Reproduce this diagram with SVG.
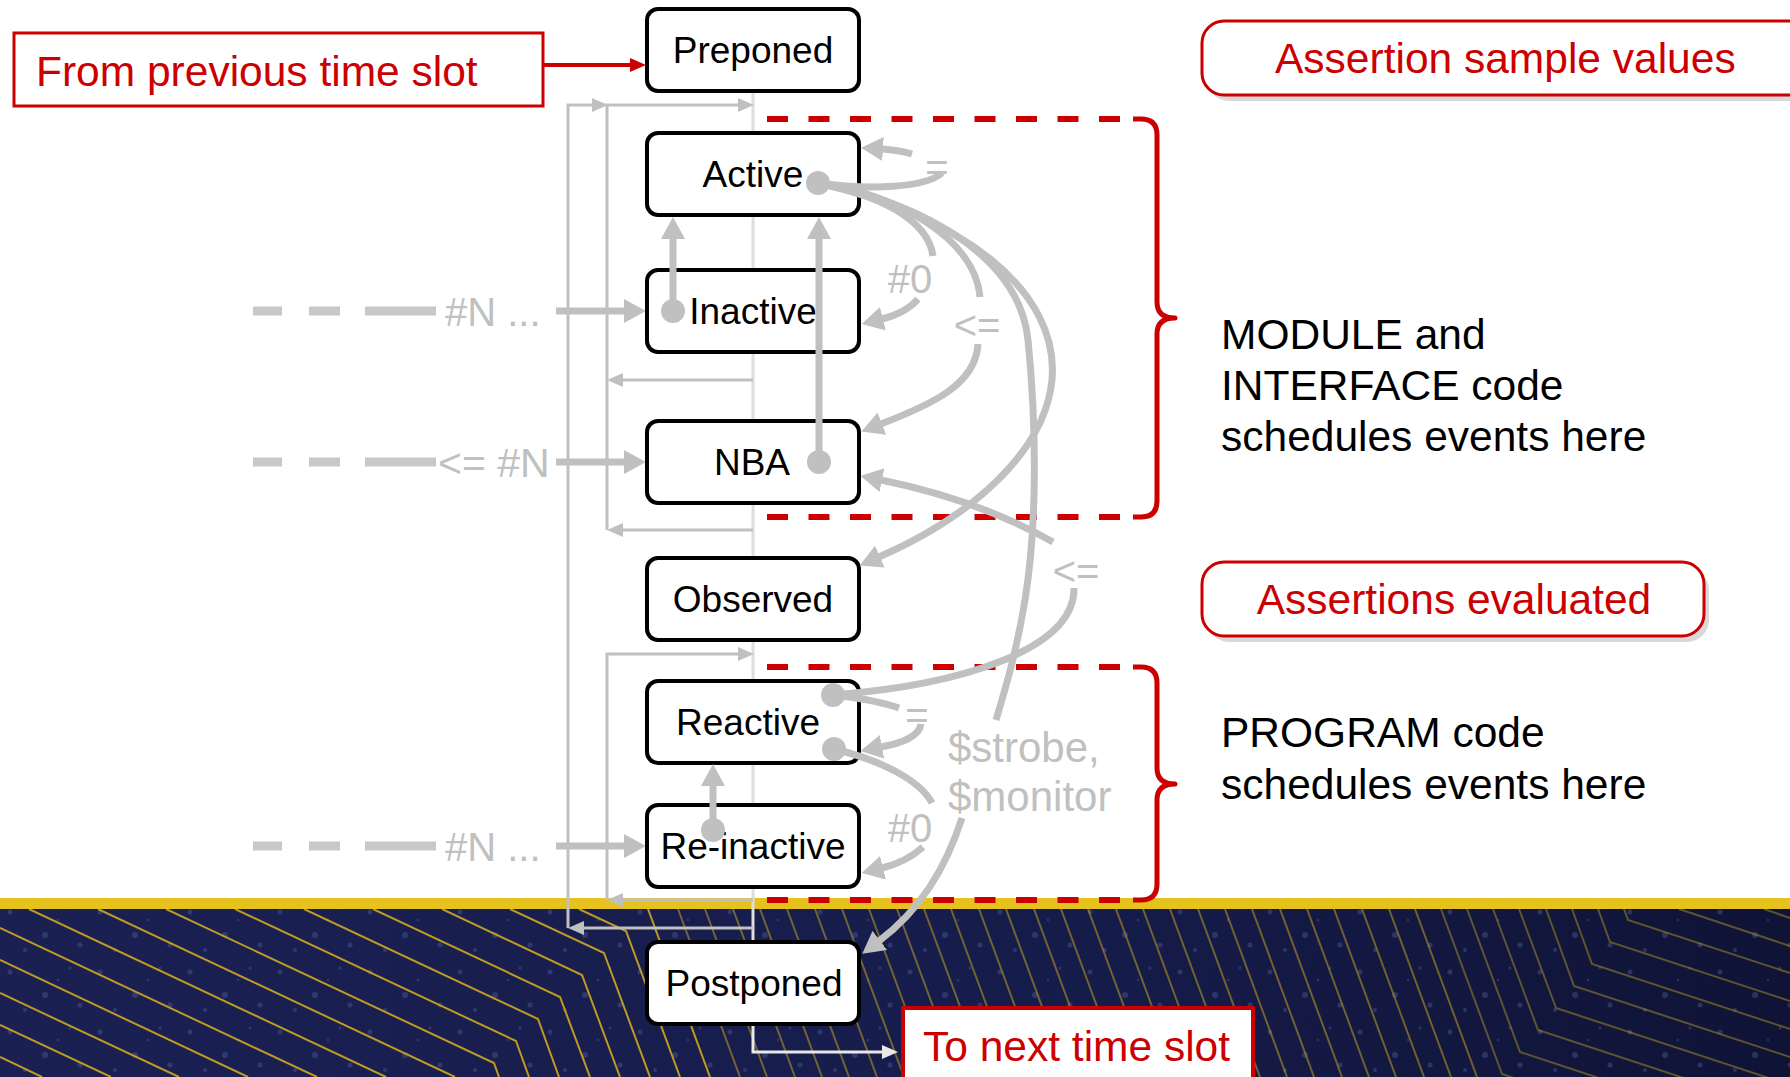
<svg xmlns="http://www.w3.org/2000/svg" width="1790" height="1077" viewBox="0 0 1790 1077">
<style>
.box{fill:#fff;stroke:#000;stroke-width:4}
.nt{font-family:"Liberation Sans",Arial,sans-serif;font-size:37px;fill:#000;text-anchor:middle}
.gl{font-family:"Liberation Sans",Arial,sans-serif;font-size:40px;fill:#c0c0c0}
.glm{font-family:"Liberation Sans",Arial,sans-serif;font-size:40px;fill:#c0c0c0;text-anchor:middle}
.bt{font-family:"Liberation Sans",Arial,sans-serif;font-size:42.5px;fill:#000}
.rt{font-family:"Liberation Sans",Arial,sans-serif;font-size:42.5px;fill:#cc0000}
.conn{fill:none;stroke:#c0c0c0;stroke-width:7}
.thin{fill:none;stroke:#c0c0c0;stroke-width:3}
.inp{fill:none;stroke:#c8c8c8;stroke-width:9}
.dot{fill:#c0c0c0}
.rdash{fill:none;stroke:#cc0000;stroke-width:6;stroke-dasharray:21 20.5}
.brace{fill:none;stroke:#cc0000;stroke-width:5;stroke-linejoin:round}
.yl{fill:none;stroke:#cfa91e;stroke-width:2}
</style>
<defs>
<marker id="ah" markerUnits="userSpaceOnUse" viewBox="0 0 22 24" markerWidth="22" markerHeight="24" refX="1" refY="12" orient="auto"><path d="M0,0 L22,12 L0,24 z" fill="#c0c0c0"/></marker>
<marker id="at" markerUnits="userSpaceOnUse" viewBox="0 0 16 14" markerWidth="16" markerHeight="14" refX="1" refY="7" orient="auto"><path d="M0,0 L16,7 L0,14 z" fill="#c0c0c0"/></marker>
<marker id="ar" markerUnits="userSpaceOnUse" viewBox="0 0 16 14" markerWidth="16" markerHeight="14" refX="1" refY="7" orient="auto"><path d="M0,0 L16,7 L0,14 z" fill="#cc0000"/></marker>
<marker id="aw" markerUnits="userSpaceOnUse" viewBox="0 0 16 14" markerWidth="16" markerHeight="14" refX="1" refY="7" orient="auto"><path d="M0,0 L16,7 L0,14 z" fill="#e8e8e8"/></marker>
<linearGradient id="navy" x1="0" y1="0" x2="1" y2="0"><stop offset="0" stop-color="#1a2052"/><stop offset="0.6" stop-color="#161c4a"/><stop offset="1" stop-color="#0f1336"/></linearGradient>
<pattern id="dots" patternUnits="userSpaceOnUse" width="90" height="60"><g fill="#5a6aa8" fill-opacity="0.35"><circle cx="10" cy="12" r="2.5"/><circle cx="45" cy="35" r="3"/><circle cx="70" cy="8" r="1.5"/><circle cx="25" cy="50" r="2"/><circle cx="80" cy="45" r="2.5"/><circle cx="58" cy="20" r="1.2"/></g></pattern>
<clipPath id="bandclip"><rect x="0" y="909" width="1790" height="168"/></clipPath>
</defs>

<rect x="0" y="0" width="1790" height="1077" fill="#fff"/>

<g id="band">
<rect x="0" y="909" width="1790" height="168" fill="url(#navy)"/>
<rect x="0" y="909" width="1790" height="168" fill="url(#dots)"/>
<g clip-path="url(#bandclip)">
<g class="yl" stroke-opacity="0.9">
<polyline points="648,909 648,909 710,1077"/>
<polyline points="579,909 626,931 680,1077"/>
<polyline points="510,909 604,953 650,1077"/>
<polyline points="442,909 582,975 620,1077"/>
<polyline points="373,909 560,997 590,1077"/>
<polyline points="304,909 538,1019 559,1077"/>
<polyline points="235,909 516,1041 529,1077"/>
<polyline points="166,909 494,1063 499,1077"/>
<polyline points="98,909 455,1077"/>
<polyline points="29,909 386,1077"/>
<polyline points="0,928 317,1077"/>
<polyline points="0,960 248,1077"/>
<polyline points="0,993 179,1077"/>
<polyline points="0,1025 111,1077"/>
<polyline points="0,1057 42,1077"/>
</g>
<g class="yl" stroke-opacity="0.5">
<path d="M678,909 l62,168 M705,909 l62,168 M733,909 l62,168 M760,909 l62,168 M787,909 l62,168 M815,909 l62,168 M842,909 l62,168 M869,909 l62,168 M897,909 l62,168 M924,909 l62,168 M951,909 l62,168 M979,909 l62,168 M1006,909 l62,168 M1034,909 l62,168 M1061,909 l62,168 M1088,909 l62,168 M1116,909 l62,168 M1143,909 l62,168 M1170,909 l62,168 M1198,909 l62,168 M1225,909 l62,168 M1252,909 l62,168 M1280,909 l62,168 M1307,909 l62,168 M1334,909 l62,168 M1362,909 l62,168 M1389,909 l62,168 M1415,909 l62,168"/>
</g>
<g class="yl" stroke-opacity="0.42">
<polyline points="1624,909 1628,920 1790,973"/>
<polyline points="1598,909 1610,942 1790,1001"/>
<polyline points="1572,909 1592,964 1790,1029"/>
<polyline points="1546,909 1574,986 1790,1057"/>
<polyline points="1519,909 1556,1008 1790,1085"/>
<polyline points="1493,909 1538,1030 1790,1113"/>
<polyline points="1467,909 1520,1052 1790,1141"/>
<polyline points="1441,909 1502,1074 1790,1169"/>
<polyline points="1679,909 1790,946"/>
<polyline points="1764,909 1790,918"/>
</g>
</g>
<rect x="0" y="898" width="1790" height="11" fill="#e6c21f"/>
</g>

<g id="regions">
<path class="rdash" d="M767,119 H1135 M767,517 H1135"/>
<path class="brace" d="M1133,119 H1141 Q1157,119 1157,135 V302 Q1157,318 1175,318 Q1157,318 1157,334 V501 Q1157,517 1141,517 H1133"/>
<path class="rdash" d="M767,667 H1135 M767,900 H1135"/>
<path class="brace" d="M1133,667 H1141 Q1157,667 1157,683 V768 Q1157,784 1175,784 Q1157,784 1157,800 V884 Q1157,900 1141,900 H1133"/>
</g>

<g id="connectors">
<path d="M753,93 V942" fill="none" stroke="#dedede" stroke-width="3"/>
<path class="thin" d="M753,928 H583" marker-end="url(#at)"/>
<path class="thin" d="M568,928 V105 H593" marker-end="url(#at)"/>
<path class="thin" d="M607,530 V105 H739" marker-end="url(#at)"/>
<path class="thin" d="M753,380 H622" marker-end="url(#at)"/>
<path class="thin" d="M753,530 H622" marker-end="url(#at)"/>
<path class="thin" d="M753,900 H622" marker-end="url(#at)"/>
<path class="thin" d="M607,900 V654 H739" marker-end="url(#at)"/>
<path d="M753,1024 V1052 H883" fill="none" stroke="#e8e8e8" stroke-width="3" marker-end="url(#aw)"/>
<path d="M543,65 H631" fill="none" stroke="#cc0000" stroke-width="4" marker-end="url(#ar)"/>

<path class="inp" d="M253,311 H282 M309,311 H340 M365,311 H436"/>
<path class="inp" d="M253,462 H282 M309,462 H340 M365,462 H436"/>
<path class="inp" d="M253,846 H282 M309,846 H340 M365,846 H436"/>
<path class="conn" stroke-width="8" d="M556,311 H625" marker-end="url(#ah)"/>
<path class="conn" stroke-width="8" d="M556,462 H625" marker-end="url(#ah)"/>
<path class="conn" stroke-width="8" d="M556,846 H625" marker-end="url(#ah)"/>
<text class="gl" x="445" y="326">#N ...</text>
<text class="gl" x="438" y="477" style="font-size:41px">&lt;= #N</text>
<text class="gl" x="445" y="861">#N ...</text>
</g>

<g id="node-preponed"><rect class="box" x="647" y="9" width="212" height="82" rx="11"/><text class="nt" x="753" y="63">Preponed</text></g>
<g id="node-active"><rect class="box" x="647" y="133" width="212" height="82" rx="11"/><text class="nt" x="753" y="187">Active</text></g>
<g id="node-inactive"><rect class="box" x="647" y="270" width="212" height="82" rx="11"/><text class="nt" x="753" y="324">Inactive</text></g>
<g id="node-nba"><rect class="box" x="647" y="421" width="212" height="82" rx="11"/><text class="nt" x="752" y="475">NBA</text></g>
<g id="node-observed"><rect class="box" x="647" y="558" width="212" height="82" rx="11"/><text class="nt" x="753" y="612">Observed</text></g>
<g id="node-reactive"><rect class="box" x="647" y="681" width="212" height="82" rx="11"/><text class="nt" x="748" y="735">Reactive</text></g>
<g id="node-reinactive"><rect class="box" x="647" y="805" width="212" height="82" rx="11"/><text class="nt" x="753" y="859">Re-inactive</text></g>
<g id="node-postponed"><rect class="box" x="647" y="942" width="212" height="82" rx="11"/><text class="nt" x="754" y="996">Postponed</text></g>

<g id="event-arrows">
<path class="conn" d="M673,311 V238" marker-end="url(#ah)"/>
<path class="conn" d="M819,462 V238" marker-end="url(#ah)"/>
<path class="conn" d="M713,830 V785" marker-end="url(#ah)"/>
<path class="conn" d="M818,183 C870,190 925,188 942,173"/>
<path class="conn" d="M912,154 Q898,150 882,149" marker-end="url(#ah)"/>
<path class="conn" d="M818,183 C880,195 928,220 933,256"/>
<path class="conn" d="M918,299 Q906,313 882,319" marker-end="url(#ah)"/>
<path class="conn" d="M818,183 C900,195 975,240 980,297"/>
<path class="conn" d="M978,344 C976,385 930,405 881,424" marker-end="url(#ah)"/>
<path class="conn" d="M818,183 C960,215 1060,290 1052,380 C1045,450 975,515 879,557" marker-end="url(#ah)"/>
<path class="conn" d="M818,183 C930,205 1020,260 1028,340 C1036,420 1038,520 1025,600 C1017,650 1005,690 996,720"/>
<path class="conn" d="M962,818 C945,870 920,910 879,941" marker-end="url(#ah)"/>
<path class="conn" d="M833,695 C960,685 1075,650 1074,588"/>
<path class="conn" d="M1053,542 C1000,512 940,492 881,480" marker-end="url(#ah)"/>
<path class="conn" d="M833,695 C860,698 882,702 899,708"/>
<path class="conn" d="M921,724 C919,737 902,743 881,747" marker-end="url(#ah)"/>
<path class="conn" d="M834,749 C880,760 920,780 932,803"/>
<path class="conn" d="M923,847 C912,857 898,864 882,868" marker-end="url(#ah)"/>
<circle class="dot" cx="818" cy="183" r="12"/>
<circle class="dot" cx="673" cy="311" r="12"/>
<circle class="dot" cx="819" cy="462" r="12"/>
<circle class="dot" cx="833" cy="695" r="12"/>
<circle class="dot" cx="834" cy="749" r="12"/>
<circle class="dot" cx="713" cy="830" r="12"/>
<text class="glm" x="937" y="181">=</text>
<text class="glm" x="910" y="293">#0</text>
<text class="glm" x="977" y="339">&lt;=</text>
<text class="glm" x="1076" y="585">&lt;=</text>
<text class="glm" x="917" y="729">=</text>
<text class="glm" x="910" y="842">#0</text>
<text class="gl" x="948" y="762" style="font-size:42px">$strobe,</text>
<text class="gl" x="948" y="811" style="font-size:42px">$monitor</text>
</g>

<g id="label-from"><rect x="14" y="33" width="529" height="73" fill="#fff" stroke="#cc0000" stroke-width="3"/><text class="rt" x="36" y="86">From previous time slot</text></g>
<g id="label-sample"><rect x="1207" y="27" width="640" height="74" rx="22" fill="#d9d9d9"/><rect x="1202" y="21" width="640" height="74" rx="22" fill="#fff" stroke="#cc0000" stroke-width="3"/><text class="rt" x="1275" y="73">Assertion sample values</text></g>
<g id="label-evaluated"><rect x="1207" y="568" width="502" height="74" rx="22" fill="#d9d9d9"/><rect x="1202" y="562" width="502" height="74" rx="22" fill="#fff" stroke="#cc0000" stroke-width="3"/><text class="rt" x="1454" y="614" text-anchor="middle">Assertions evaluated</text></g>
<g id="label-module"><text class="bt" x="1221" y="349">MODULE and</text><text class="bt" x="1221" y="400">INTERFACE code</text><text class="bt" x="1221" y="451">schedules events here</text></g>
<g id="label-program"><text class="bt" x="1221" y="747">PROGRAM code</text><text class="bt" x="1221" y="799">schedules events here</text></g>
<g id="label-next"><rect x="903" y="1008" width="350" height="90" fill="#fff" stroke="#cc0000" stroke-width="4"/><text class="rt" x="923" y="1061">To next time slot</text></g>
</svg>
